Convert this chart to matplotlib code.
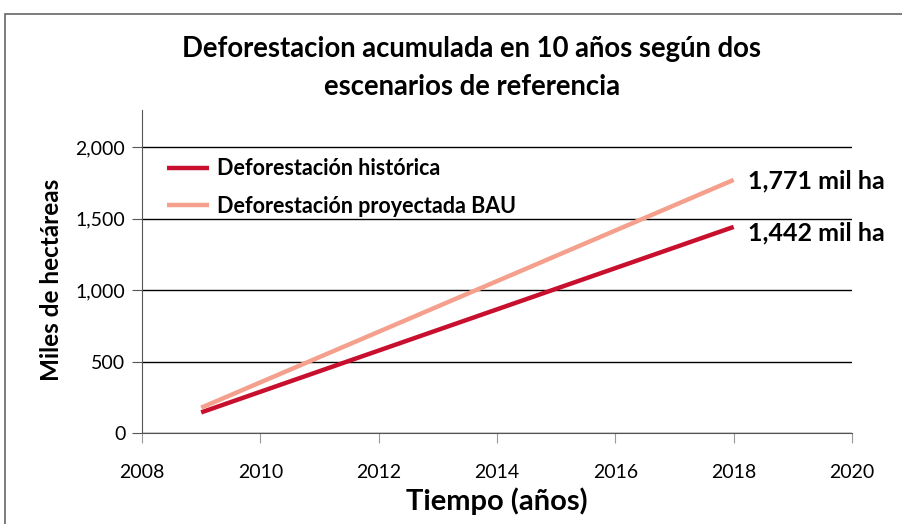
import matplotlib
matplotlib.use("Agg")
import matplotlib.pyplot as plt
from matplotlib.patches import Rectangle

years = [2009, 2010, 2011, 2012, 2013, 2014, 2015, 2016, 2017, 2018]
historica = [144.2, 288.4, 432.6, 576.8, 721.0, 865.2, 1009.4, 1153.6, 1297.8, 1442.0]
bau = [177.1, 354.2, 531.3, 708.4, 885.5, 1062.6, 1239.7, 1416.8, 1593.9, 1771.0]
labels = ["Deforestación histórica", "Deforestación proyectada BAU"]
end_labels = ["1,442 mil ha", "1,771 mil ha"]
title = "Deforestacion acumulada en 10 años según dos\nescenarios de referencia"
xticks = [2008, 2010, 2012, 2014, 2016, 2018, 2020]
yticks = [0, 500, 1000, 1500, 2000]

plt.rcParams['font.family'] = ['Lato', 'DejaVu Sans']

fig = plt.figure(figsize=(9.03, 5.24), dpi=100)
ax = fig.add_axes([142/903, 1-433/524, (852-142)/903, (433-110)/524])

c_hist = "#C8102E"
c_bau = "#F4A08C"
ax.plot(years, historica, color=c_hist, lw=3.2, label=labels[0], solid_capstyle='butt')
ax.plot(years, bau, color=c_bau, lw=3.2, label=labels[1], solid_capstyle='butt')

ax.set_xlim(2008, 2020)
ax.set_ylim(0, 2260)
ax.set_xticks(xticks)
ax.set_yticks(yticks)
ax.set_yticklabels([f"{v:,}" for v in yticks])
ax.grid(axis='y', color='black', lw=1)
ax.set_axisbelow(True)
for s in ['top', 'right']:
    ax.spines[s].set_visible(False)
ax.spines['left'].set_color('#555555')
ax.spines['bottom'].set_color('#555555')
ax.tick_params(axis='x', length=7, color='#999999', labelsize=14, pad=15)
ax.tick_params(axis='y', length=7, color='#555555', labelsize=14, pad=5)

ax.set_xlabel("Tiempo (años)", fontsize=21, fontweight='bold', labelpad=5)
fig.text(52/903, 1-280/524, "Miles de hectáreas", rotation=90, ha='center', va='center',
         fontsize=17.5, fontweight='bold')

ax.text(2018.25, 1400, end_labels[0], fontsize=18, fontweight='bold', va='center', ha='left')
ax.text(2018.25, 1762, end_labels[1], fontsize=18, fontweight='bold', va='center', ha='left')

leg = ax.legend(loc='upper left', bbox_to_anchor=(0.008, 0.91), frameon=False,
                prop={'weight': 'bold', 'size': 15.5}, handlelength=1.95, handletextpad=0.35,
                labelspacing=0.75)

fig.text(472/903, 1-68/524, title, ha='center', va='center', fontsize=19.8,
         fontweight='bold', linespacing=1.6)

fig.patches.append(Rectangle((5/903, -0.1), 1.2, 1 - 14/524 + 0.1, transform=fig.transFigure,
                             fill=False, edgecolor='#666666', lw=1.2, clip_on=False))

fig.savefig("out.png", dpi=100)
